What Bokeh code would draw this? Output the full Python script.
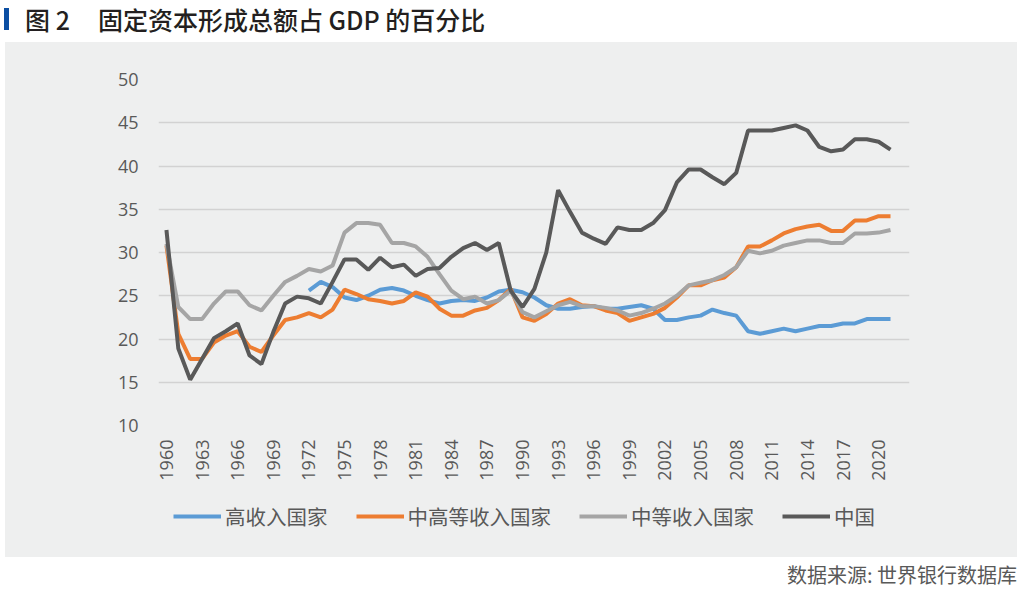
import math
from bokeh.plotting import figure
from bokeh.models import Range1d, FixedTicker, Legend, LegendItem, Div
from bokeh.layouts import column
from bokeh.embed import file_html
from bokeh.resources import INLINE

years = list(range(1960, 2022))
years_high = list(range(1972, 2022))

high_income = [25.6, 26.6, 26.0, 24.8, 24.5, 25.0, 25.7, 25.9,
               25.6, 25.0, 24.5, 24.1, 24.4, 24.5, 24.4, 24.8, 25.5, 25.7,
               25.4, 24.8, 23.9, 23.5, 23.5, 23.7, 23.8, 23.5, 23.5, 23.7,
               23.9, 23.5, 22.2, 22.2, 22.5, 22.7, 23.4, 23.0, 22.7, 20.9,
               20.6, 20.9, 21.2, 20.9, 21.2, 21.5, 21.5, 21.8, 21.8, 22.3,
               22.3, 22.3]

upper_middle = [30.8, 20.6, 17.7, 17.7, 19.6, 20.4, 20.9, 19.1, 18.5, 20.4,
                22.2, 22.5, 23.0, 22.5, 23.4, 25.7, 25.2, 24.6, 24.4, 24.1,
                24.4, 25.4, 24.9, 23.5, 22.7, 22.7, 23.3, 23.6, 24.5, 25.8,
                22.5, 22.1, 22.9, 24.1, 24.6, 23.9, 23.8, 23.3, 23.0, 22.1,
                22.5, 22.9, 23.6, 24.8, 26.2, 26.2, 26.8, 27.1, 28.3, 30.7,
                30.7, 31.4, 32.2, 32.7, 33.0, 33.2, 32.5, 32.5, 33.7, 33.7,
                34.2, 34.2]

middle = [31.0, 23.7, 22.3, 22.3, 24.1, 25.5, 25.5, 23.9, 23.3, 25.0,
          26.6, 27.3, 28.1, 27.8, 28.5, 32.3, 33.4, 33.4, 33.2, 31.1,
          31.1, 30.7, 29.5, 27.5, 25.6, 24.6, 24.9, 24.1, 24.5, 25.6,
          23.1, 22.5, 23.2, 23.9, 24.3, 23.8, 23.8, 23.6, 23.3, 22.7,
          23.0, 23.5, 24.1, 25.0, 26.2, 26.5, 26.8, 27.4, 28.3, 30.2,
          29.9, 30.2, 30.8, 31.1, 31.4, 31.4, 31.1, 31.1, 32.2, 32.2,
          32.3, 32.6]

china = [32.6, 18.9, 15.3, 17.7, 20.1, 20.9, 21.8, 18.1, 17.1, 20.8,
         24.1, 24.9, 24.7, 24.1, 26.6, 29.2, 29.2, 28.0, 29.4, 28.3,
         28.6, 27.3, 28.1, 28.2, 29.5, 30.5, 31.1, 30.3, 31.1, 25.6,
         23.7, 25.8, 30.0, 37.2, 34.7, 32.3, 31.6, 31.0, 32.9, 32.6,
         32.6, 33.4, 34.9, 38.1, 39.6, 39.6, 38.7, 37.9, 39.2, 44.1,
         44.1, 44.1, 44.4, 44.7, 44.1, 42.2, 41.7, 41.9, 43.1, 43.1,
         42.8, 41.9]

series_names = ["高收入国家", "中高等收入国家", "中等收入国家", "中国"]
series_colors = ["#5B9BD5", "#ED7D31", "#A5A5A5", "#595959"]
x_ticks = [1960, 1963, 1966, 1969, 1972, 1975, 1978, 1981, 1984, 1987, 1990,
           1993, 1996, 1999, 2002, 2005, 2008, 2011, 2014, 2017, 2020]
y_ticks = [10, 15, 20, 25, 30, 35, 40, 45, 50]

BG = "#EEEFEF"
TXT = "#595959"
CJK = "Noto Sans CJK SC"

series_x = [years_high, years, years, years]
series_y = [high_income, upper_middle, middle, china]

# ---- main chart ----
p = figure(width=1012, height=453,
           x_range=Range1d(1959.33, 2022.6), y_range=Range1d(10, 50),
           output_backend="svg", toolbar_location=None,
           min_border_left=153, min_border_right=108,
           min_border_top=37, min_border_bottom=70)
p.margin = (0, 0, 0, 0)
p.background_fill_color = BG
p.border_fill_color = BG
p.outline_line_color = None

for xs, ys, c in zip(series_x, series_y, series_colors):
    p.line(xs, ys, line_color=c, line_width=4)

p.xgrid.grid_line_color = None
p.ygrid.grid_line_color = "#D2D2D2"
p.ygrid.grid_line_width = 1.5
p.ygrid.ticker = FixedTicker(ticks=y_ticks)

p.yaxis.ticker = FixedTicker(ticks=y_ticks)
p.xaxis.ticker = FixedTicker(ticks=x_ticks)
for ax in (p.xaxis[0], p.yaxis[0]):
    ax.axis_line_color = None
    ax.major_tick_line_color = None
    ax.minor_tick_line_color = None
    ax.major_label_text_color = TXT
    ax.major_label_text_font = "Open Sans"
    ax.major_label_text_font_size = "18px"
p.yaxis.major_label_standoff = 14
p.xaxis.major_label_standoff = 8
p.xaxis.major_label_orientation = math.pi / 2

# ---- legend strip (same grey panel, below the chart) ----
lg = figure(width=1012, height=62, x_range=Range1d(0, 1), y_range=Range1d(0, 1),
            output_backend="svg", toolbar_location=None,
            x_axis_location=None, y_axis_location=None,
            min_border=0, min_border_left=0, min_border_right=0,
            min_border_top=0, min_border_bottom=0)
lg.margin = (0, 0, 0, 0)
lg.background_fill_color = BG
lg.border_fill_color = BG
lg.outline_line_color = None
lg.xgrid.grid_line_color = None
lg.ygrid.grid_line_color = None

items = []
for xs, ys, c, n in zip(series_x, series_y, series_colors, series_names):
    r = lg.line(xs, ys, line_color=c, line_width=4)
    items.append(LegendItem(label=n, renderers=[r]))

legend = Legend(items=items, orientation="horizontal", location=(15, 26))
legend.label_text_font = CJK
legend.label_text_font_size = "20.5px"
legend.label_text_color = TXT
legend.glyph_width = 48
legend.glyph_height = 24
legend.label_standoff = 4
legend.spacing = 28
legend.padding = 0
legend.margin = 0
legend.background_fill_alpha = 0
legend.border_line_color = None
lg.add_layout(legend, "center")

panel = column(p, lg, spacing=0, width=1012, margin=(0, 0, 0, 5),
               styles={"background-color": BG})

title_div = Div(text=(
    '<div style="display:flex;align-items:center;height:36px;padding-top:1px;line-height:36px;'
    'font-family:\'Noto Sans CJK SC\';font-weight:500;font-size:25px;color:#231F20;">'
    '<span style="display:inline-block;width:5px;height:22px;margin-left:4px;background:#0B4EA2;margin-right:16px;"></span>'
    '<span>图 2</span><span style="display:inline-block;width:28px;"></span>'
    '<span>固定资本形成总额占 GDP 的百分比</span></div>'),
    width=1024, height=42, margin=(0, 0, 0, 0))

source_div = Div(text=(
    '<div style="width:1017px;text-align:right;padding-top:4px;font-family:\'Noto Sans CJK SC\';'
    'font-size:20px;color:#595959;line-height:28px;">数据来源: 世界银行数据库</div>'),
    width=1024, height=33, margin=(0, 0, 0, 0))

layout = column(title_div, panel, source_div, spacing=0)

open("out.html", "w").write(file_html(layout, INLINE))
